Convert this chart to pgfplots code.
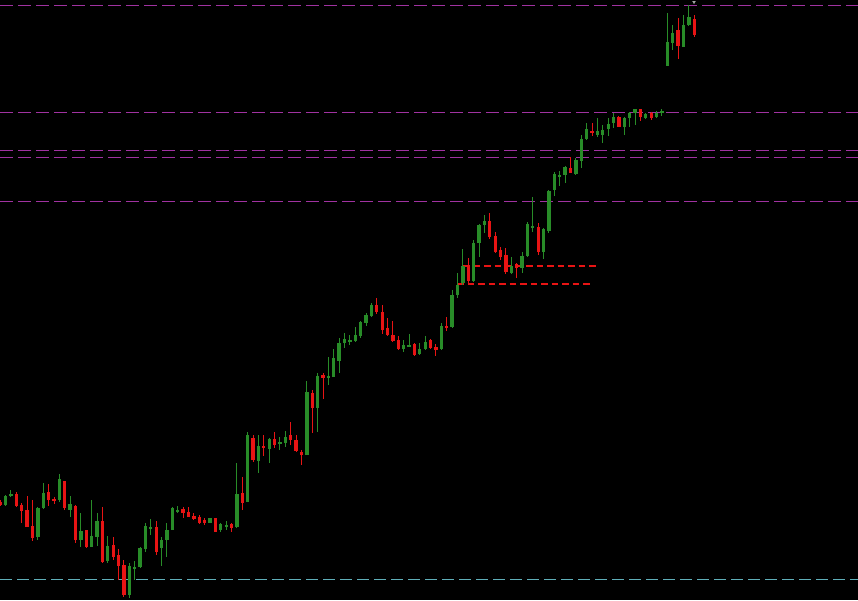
\documentclass[border=0pt]{standalone}
\usepackage{pgfplots}
\pgfplotsset{compat=1.18}
\usepackage{pgfplotstable}
\definecolor{cgreen}{RGB}{40,140,40}
\definecolor{cred}{RGB}{232,20,20}
\definecolor{cmag}{RGB}{160,50,160}
\definecolor{ccyan}{RGB}{95,175,185}

% candle index i, open, high, low, close (values in picture rows, 0 = top)
\pgfplotstableread{
i o h l c
1 505 495 506 496
2 495 490 497 494
7 537 507 540 508
8 508 483 509 493
11 500 474 502 479
13 510 496 517 504
15 540 513 547 531
17 547 500 547 536
18 537 513 546 521
20 561 536 563 546
24 595 563 598 566
25 568 561 580 567
26 567 547 568 548
27 549 523 552 526
28 528 519 535 527
30 548 537 566 540
31 540 523 557 530
32 530 507 530 508
33 511 506 513 510
39 523 518 523 518
41 530 523 532 524
42 526 521 530 525
44 527 463 528 494
46 502 432 502 435
48 461 435 473 446
50 449 438 463 439
52 443 437 450 442
53 443 431 447 437
57 455 381 455 392
59 408 373 432 376
61 378 357 385 376
62 377 349 377 358
63 361 338 373 343
64 343 333 348 339
65 341 335 345 340
66 341 327 342 335
67 336 321 338 322
68 323 313 326 315
69 316 303 317 305
75 349 340 352 345
76 346 334 346 345
78 354 343 355 349
79 349 336 350 342
82 349 323 350 326
84 327 290 328 295
85 295 273 298 285
86 283 249 285 266
88 281 240 282 243
89 243 224 257 225
90 225 215 233 221
95 273 257 274 266
97 268 252 273 256
98 256 222 257 224
99 228 197 232 226
101 252 228 259 229
102 231 190 233 191
103 190 172 196 174
104 176 171 186 175
105 175 166 183 167
107 174 158 175 160
108 161 135 168 139
109 139 123 140 129
111 135 118 137 131
112 135 125 143 130
113 129 118 136 124
114 123 113 128 117
116 127 117 135 118
117 118 112 127 113
118 113 109 125 109
120 118 113 119 114
122 117 111 118 113
123 113 109 116 111
124 66 13 66 42
125 43 25 50 33
127 47 15 47 25
128 25 5 26 17
}\upcandles

\pgfplotstableread{
i o h l c
0 502 500 506 505
3 494 492 507 506
4 505 503 523 511
5 510 496 527 527
6 526 500 541 538
9 492 484 506 500
10 499 497 504 500
12 481 481 510 508
14 506 505 543 540
16 530 530 548 547
19 521 507 563 562
21 545 537 560 557
22 555 549 580 566
23 565 560 597 595
29 527 521 555 552
34 509 507 518 513
35 512 507 517 517
36 516 513 520 519
37 517 515 524 523
38 520 518 525 523
40 518 518 532 532
43 524 523 532 528
45 493 477 510 503
47 438 435 462 460
49 446 435 456 448
51 439 432 448 445
54 435 422 445 440
55 440 435 452 451
56 452 450 465 455
58 393 390 433 408
60 375 373 399 378
70 305 298 314 312
71 312 305 334 330
72 328 318 336 335
73 335 321 342 341
74 340 336 350 349
77 344 343 356 355
80 340 339 349 348
81 347 344 356 350
83 326 317 331 328
87 265 258 283 281
91 221 213 239 237
92 236 232 253 252
93 250 247 260 257
94 255 248 274 272
96 264 263 278 268
100 227 223 255 252
106 168 157 173 173
110 131 123 136 133
115 117 116 127 127
119 109 109 121 117
121 113 112 120 118
126 30 18 59 46
129 19 15 37 35
}\downcandles

\begin{document}
\begin{tikzpicture}
\fill[black] (0pt,0pt) rectangle (858pt,600pt);
\begin{axis}[
  at={(0pt,0pt)}, anchor=south west,
  scale only axis, width=858pt, height=600pt,
  xmin=0, xmax=858, ymin=0, ymax=600,
  y dir=reverse, hide axis, clip=true,
]
% horizontal levels
\addplot[cmag, line width=1pt, dash pattern=on 13pt off 5pt] coordinates {(0,5) (858,5)};
\addplot[cmag, line width=1pt, dash pattern=on 13pt off 5pt] coordinates {(0,112) (858,112)};
\addplot[cmag, line width=1pt, dash pattern=on 13pt off 5pt] coordinates {(0,150.5) (858,150.5)};
\addplot[cmag, line width=1pt, dash pattern=on 13pt off 5pt] coordinates {(0,157) (858,157)};
\addplot[cmag, line width=1pt, dash pattern=on 13pt off 5pt] coordinates {(0,201) (858,201)};
\addplot[ccyan, line width=1pt, dash pattern=on 12pt off 5pt] coordinates {(0,579) (858,579)};
\addplot[cred, line width=2pt, dash pattern=on 6.5pt off 4pt] coordinates {(463,265.5) (598,265.5)};
\addplot[cred, line width=2pt, dash pattern=on 6.5pt off 4pt] coordinates {(457,283.5) (593,283.5)};
% wicks
\addplot[draw=none, mark=none, error bars/.cd, y dir=both, y explicit, error mark=none,
  error bar style={draw=cgreen, solid, line width=1pt}]
  table[x expr=0.2+5.38*\thisrow{i}, y expr=(\thisrow{h}+\thisrow{l})/2, y error expr=(\thisrow{l}-\thisrow{h})/2] {\upcandles};
\addplot[draw=none, mark=none, error bars/.cd, y dir=both, y explicit, error mark=none,
  error bar style={draw=cred, solid, line width=1pt}]
  table[x expr=0.2+5.38*\thisrow{i}, y expr=(\thisrow{h}+\thisrow{l})/2, y error expr=(\thisrow{l}-\thisrow{h})/2] {\downcandles};
% bodies
\addplot[draw=none, mark=none, error bars/.cd, y dir=both, y explicit, error mark=none,
  error bar style={draw=cgreen, solid, line width=3.3pt}]
  table[x expr=0.2+5.38*\thisrow{i}, y expr=(\thisrow{o}+\thisrow{c})/2, y error expr={max(abs(\thisrow{o}-\thisrow{c})/2,0.6)}] {\upcandles};
\addplot[draw=none, mark=none, error bars/.cd, y dir=both, y explicit, error mark=none,
  error bar style={draw=cred, solid, line width=3.3pt}]
  table[x expr=0.2+5.38*\thisrow{i}, y expr=(\thisrow{o}+\thisrow{c})/2, y error expr={max(abs(\thisrow{o}-\thisrow{c})/2,0.6)}] {\downcandles};
% small marker at top
\addplot[only marks, mark=triangle*, mark size=1.6pt, mark options={rotate=180, fill=gray!70, draw=gray!70}] coordinates {(694,2)};
\end{axis}
\end{tikzpicture}
\end{document}
